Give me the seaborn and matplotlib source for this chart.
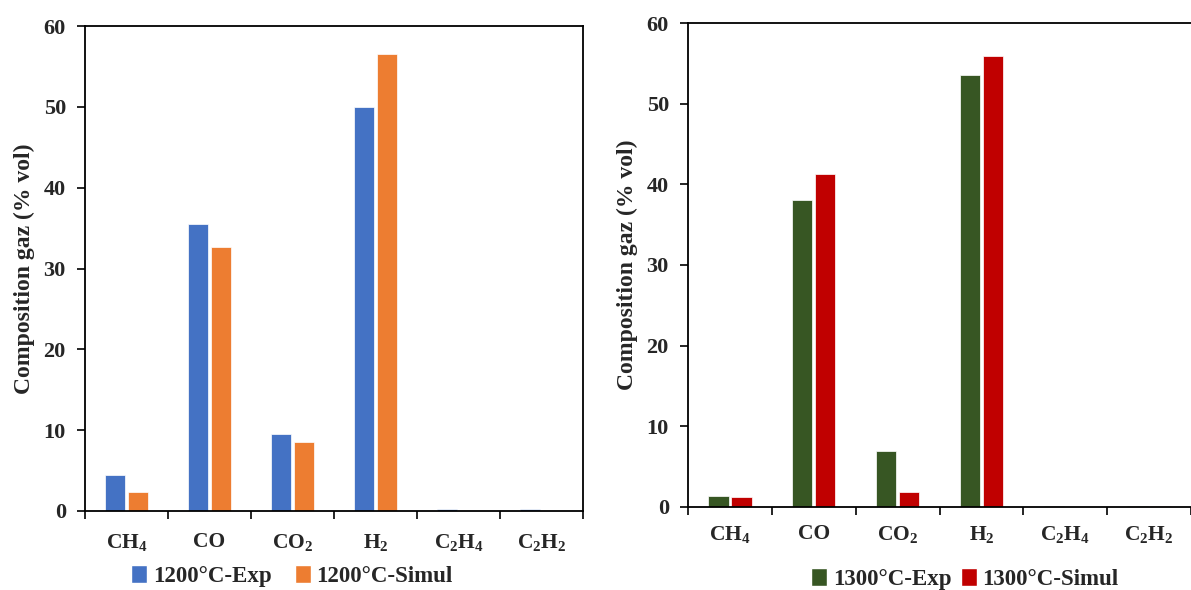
import matplotlib
matplotlib.use("Agg")
import matplotlib.pyplot as plt
import seaborn as sns
import pandas as pd
from matplotlib.patches import Patch
from matplotlib.ticker import MultipleLocator, FixedLocator

sns.set_style("white")
plt.rcParams['font.family'] = ['Liberation Serif', 'DejaVu Serif']
plt.rcParams['font.weight'] = 'bold'
plt.rcParams['mathtext.default'] = 'regular'

gases = ['CH$_4$', 'CO', 'CO$_2$', 'H$_2$', 'C$_2$H$_4$', 'C$_2$H$_2$']

exp_1200 = [4.4, 35.5, 9.5, 50.0, 0.3, 0.3]
sim_1200 = [2.3, 32.7, 8.5, 56.6, 0.0, 0.0]
exp_1300 = [1.4, 38.1, 6.9, 53.6, 0.1, 0.1]
sim_1300 = [1.2, 41.3, 1.8, 55.9, 0.05, 0.1]

series_1200 = ['1200°C-Exp', '1200°C-Simul']
series_1300 = ['1300°C-Exp', '1300°C-Simul']
colors_1200 = ['#4472C4', '#ED7D31']
colors_1300 = ['#375623', '#C00000']


def long_df(names, a, b):
    rows = []
    for g, v in zip(gases, a):
        rows.append({'gas': g, 'serie': names[0], 'val': v})
    for g, v in zip(gases, b):
        rows.append({'gas': g, 'serie': names[1], 'val': v})
    return pd.DataFrame(rows)


fig = plt.figure(figsize=(11.91, 5.90), dpi=100)
ax1 = fig.add_axes([0.0714, 0.1339, 0.4181, 0.8220])
ax2 = fig.add_axes([0.5777, 0.1407, 0.4223, 0.8203])


def draw(ax, names, a, b, colors, legend_y, legend_x, right_spine, colspace, xpad):
    df = long_df(names, a, b)
    sns.barplot(data=df, x='gas', y='val', hue='serie', order=gases,
                hue_order=names, palette=colors, width=0.55, gap=0.12,
                edgecolor='white', linewidth=0.5, saturation=1,
                ax=ax, legend=False)
    ax.set_xlim(-0.5, 5.5)
    ax.set_ylim(0, 60)
    ax.yaxis.set_major_locator(MultipleLocator(10))
    ax.xaxis.set_minor_locator(FixedLocator([i - 0.5 for i in range(7)]))
    ax.tick_params(axis='x', which='major', length=0, pad=xpad, labelsize=15.5)
    ax.tick_params(axis='x', which='minor', length=6, width=1.2,
                   direction='out', bottom=True, color='black')
    ax.tick_params(axis='y', which='major', length=5.8, width=1.2,
                   direction='out', left=True, labelsize=16, pad=8, color='black')
    for lab in ax.get_xticklabels() + ax.get_yticklabels():
        lab.set_fontweight('bold')
    ax.set_xlabel('')
    ax.set_ylabel('Composition gaz (% vol)', fontsize=17, fontweight='bold', labelpad=6)
    for s in ['left', 'bottom', 'top', 'right']:
        ax.spines[s].set_color('black')
        ax.spines[s].set_linewidth(1.3)
    ax.spines['right'].set_visible(right_spine)
    handles = [Patch(facecolor=c, edgecolor='white', label=n) for c, n in zip(colors, names)]
    fig.legend(handles=handles, loc='center', bbox_to_anchor=(legend_x, legend_y),
               ncol=2, frameon=False, handlelength=0.7, handleheight=0.8,
               handletextpad=0.25, columnspacing=colspace,
               prop={'family': 'Liberation Serif', 'weight': 'bold', 'size': 16.5})


draw(ax1, series_1200, exp_1200, sim_1200, colors_1200, 1 - 576 / 590, 292 / 1191, True, 1.0, 15)
draw(ax2, series_1300, exp_1300, sim_1300, colors_1300, 1 - 579 / 590, 965 / 1191, False, 0.4, 12)

fig.savefig('out.png', dpi=100, facecolor='white')
